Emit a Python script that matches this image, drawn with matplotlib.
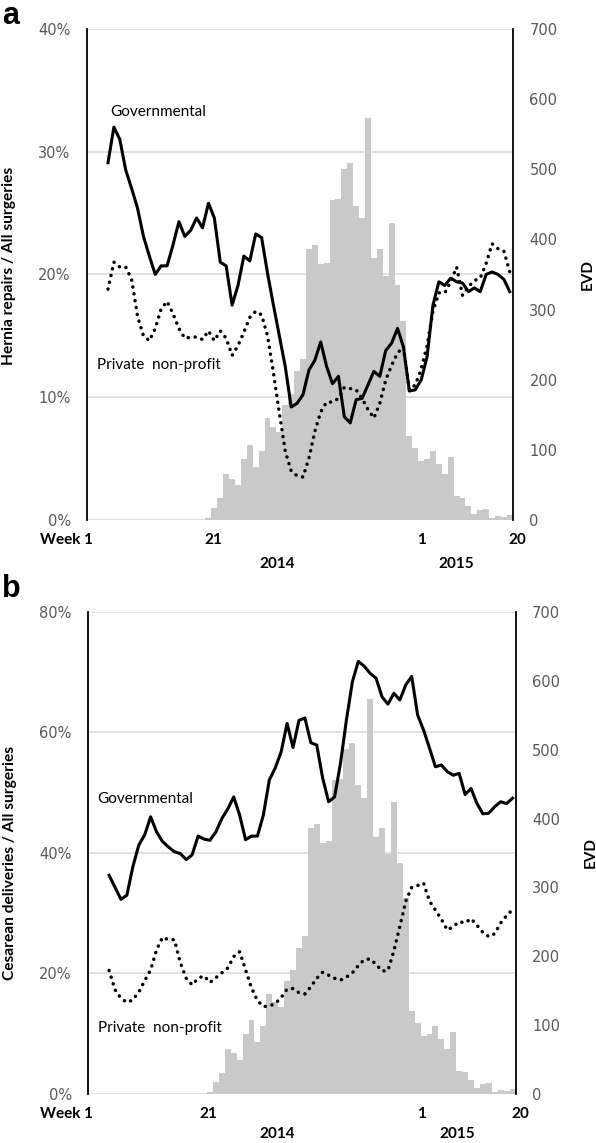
import numpy as np
import matplotlib.pyplot as plt
from matplotlib.transforms import blended_transform_factory

plt.rcParams['font.family'] = ['Lato', 'DejaVu Sans']

# weeks: 2014 week 1 ... 2015 week 20 (72 weeks)
n_weeks = 72

# weekly EVD cases (right axis), same in both panels
evd = [0] * 20 + [3, 17, 31, 65, 59, 50, 87, 107, 75, 99,
                  145, 133, 126, 164, 180, 212, 230,
                  386, 392, 365, 367, 456, 457, 501, 509, 448, 430, 573, 373, 386, 348, 424, 335, 284,
                  120, 103, 84, 87, 99, 80, 65, 90, 34, 32, 20, 9, 14, 16, 3, 6, 4, 7]

# lines start at week index 3
line_start = 3

# panel a: hernia repairs / all surgeries (%)
gov_a = [29.1, 32.0, 31.0, 28.5, 27.0, 25.4, 23.1, 21.5, 20.0, 20.7,
         20.7, 22.4, 24.3, 23.1, 23.6, 24.6, 23.8, 25.8, 24.6, 21.0,
         20.7, 17.5, 19.1, 21.5, 21.1, 23.3, 23.0, 20.1, 17.5, 15.0,
         12.5, 9.2, 9.5, 10.2, 12.2, 13.0, 14.5, 12.5, 11.1, 11.7,
         8.4, 7.9, 9.8, 9.9, 11.0, 12.1, 11.7, 13.8, 14.4, 15.6,
         14.1, 10.5, 10.6, 11.4, 13.3, 17.5, 19.4, 19.1, 19.7, 19.4,
         19.3, 18.6, 18.9, 18.6, 20.0, 20.2, 20.0, 19.6, 18.6]
priv_a = [18.8, 21.0, 20.6, 20.6, 19.6, 16.6, 15.0, 14.6, 15.6, 17.2,
          17.8, 16.8, 15.6, 14.8, 14.9, 14.9, 14.7, 15.4, 14.6, 15.4,
          14.8, 13.4, 14.2, 15.3, 16.5, 17.0, 16.7, 15.0, 12.0, 8.7,
          5.6, 4.0, 3.6, 3.5, 5.0, 7.2, 8.8, 9.6, 9.6, 9.9,
          10.8, 10.7, 10.6, 9.9, 9.0, 8.3, 9.5, 11.4, 12.6, 13.6,
          14.1, 10.6, 11.0, 12.3, 14.2, 17.0, 18.5, 18.5, 19.4, 20.6,
          18.3, 19.0, 19.5, 19.7, 20.9, 22.5, 22.1, 21.9, 20.2]

# panel b: cesarean deliveries / all surgeries (%)
gov_b = [36.3, 34.3, 32.3, 33.0, 37.7, 41.3, 43.0, 46.0, 43.5, 41.9,
         41.0, 40.2, 39.9, 38.9, 39.7, 42.8, 42.3, 42.1, 43.5, 45.7,
         47.3, 49.3, 46.3, 42.2, 42.8, 42.8, 46.3, 52.1, 54.1, 56.8,
         61.5, 57.5, 62.0, 62.4, 58.3, 57.9, 52.4, 48.5, 49.3, 54.9,
         62.1, 68.4, 71.8, 71.0, 69.8, 69.0, 65.9, 64.7, 66.5, 65.4,
         67.9, 69.3, 62.9, 60.4, 57.4, 54.3, 54.6, 53.5, 52.9, 53.2,
         49.7, 50.7, 48.2, 46.5, 46.6, 47.7, 48.5, 48.2, 49.1]
priv_b = [20.5, 17.3, 15.9, 15.2, 15.6, 16.9, 18.8, 20.6, 23.9, 26.0,
          25.6, 25.6, 21.8, 19.2, 18.1, 19.2, 19.6, 18.5, 19.3, 20.1,
          20.9, 22.8, 23.6, 20.6, 17.6, 15.5, 14.5, 14.6, 15.0, 16.0,
          17.4, 17.5, 16.8, 16.6, 17.8, 19.2, 20.2, 19.7, 19.2, 18.9,
          19.4, 20.1, 21.3, 22.3, 22.4, 21.5, 20.4, 20.5, 23.8, 27.8,
          32.0, 34.3, 34.6, 35.0, 32.0, 30.5, 29.0, 27.2, 27.8, 28.6,
          28.4, 29.1, 28.0, 26.8, 26.1, 26.6, 28.4, 29.6, 30.6]

week_labels = ["Week 1", "21", "1", "20"]
year_labels = ["2014", "2015"]

GRAY_TXT = '#595959'
BAR = '#c9c9c9'
GRID = '#d9d9d9'


def panel(rect, gov, priv, ymax, ystep, ylabel, letter, letter_y,
          gov_txt, priv_txt, week_pos, year_pos, ylab_y, year_y):
    ax = fig.add_axes(rect)
    ax2 = ax.twinx()
    ax3 = ax.twinx()

    x = np.arange(n_weeks) + 0.5
    xl = np.arange(line_start, n_weeks) + 0.5

    # left axis: grid + percent ticks
    ax.set_xlim(0, n_weeks)
    ax.set_ylim(0, ymax)
    ticks = np.arange(0, ymax + 1, ystep)
    ax.set_yticks(ticks)
    ax.set_yticklabels([f"{int(t)}%" for t in ticks], fontfamily='DejaVu Sans', fontsize=10.5)
    ax.tick_params(axis='y', length=0, pad=12, colors=GRAY_TXT)
    ax.set_xticks([])
    ax.grid(axis='y', color=GRID, lw=1.1)
    ax.set_axisbelow(True)

    # right axis: EVD bars
    ax2.bar(x, evd, width=1.0, color=BAR, linewidth=0)
    ax2.set_ylim(0, 700)
    ax2.set_yticks(np.arange(0, 701, 100))
    ax2.set_yticklabels([str(t) for t in range(0, 701, 100)], fontfamily='DejaVu Sans', fontsize=10.5)
    ax2.tick_params(axis='y', length=0, pad=12, colors=GRAY_TXT)

    # lines on top
    ax3.set_ylim(0, ymax)
    ax3.set_yticks([])
    ax3.plot(xl, gov, color='black', lw=2.2, solid_joinstyle='round')
    ax3.plot(xl, priv, color='black', lw=2.5, linestyle=(0, (0.05, 1.95)),
             dash_capstyle='round')
    ax3.text(gov_txt[0], gov_txt[1], "Governmental", fontsize=11, va='center', ha='left')
    ax3.text(priv_txt[0], priv_txt[1], "Private  non-profit", fontsize=11, va='center', ha='left')

    for a in (ax, ax2, ax3):
        for s in a.spines.values():
            s.set_visible(False)
    ax.spines['left'].set_visible(True)
    ax.spines['left'].set_linewidth(1.3)
    ax2.spines['right'].set_visible(True)
    ax2.spines['right'].set_linewidth(1.3)

    trans = blended_transform_factory(ax.transData, ax.transAxes)
    for p, lbl in zip(week_pos, week_labels):
        ax.text(p, -0.041, lbl, transform=trans, ha='center', va='center',
                fontsize=11, fontweight='bold')
    for p, lbl in zip(year_pos, year_labels):
        ax.text(p, year_y, lbl, transform=trans, ha='center', va='center',
                fontsize=11, fontweight='bold')

    ax.text(-0.183, ylab_y, ylabel, transform=ax.transAxes, rotation=90,
            ha='center', va='center', fontsize=11.2, fontweight='bold')
    ax.text(1.177, 0.5, "EVD", transform=ax.transAxes, rotation=90,
            ha='center', va='center', fontsize=11, fontweight='bold')
    fig.text(0.004, letter_y, letter, fontsize=22, fontweight='bold',
             family='Liberation Sans', va='top', ha='left')


fig = plt.figure(figsize=(5.96, 11.43), dpi=100)

panel([0.1465, 0.5451, 0.7138, 0.4296], gov_a, priv_a, 40, 10,
      "Hernia repairs / All surgeries", "a", 1 - 1 / 1143,
      (3.84, 33.2), (1.64, 12.6),
      [-3.5, 21.4, 56.5, 72.8], [32.1, 62.4], 0.517, -0.090)

panel([0.1482, 0.0429, 0.7168, 0.4217], gov_b, priv_b, 80, 20,
      "Cesarean deliveries / All surgeries", "b", 1 - 574 / 1143,
      (1.42, 49.0), (1.64, 11.0),
      [-3.7, 20.3, 56.1, 72.8], [31.8, 62.1], 0.479, -0.083)

fig.savefig("out.png", dpi=100)
